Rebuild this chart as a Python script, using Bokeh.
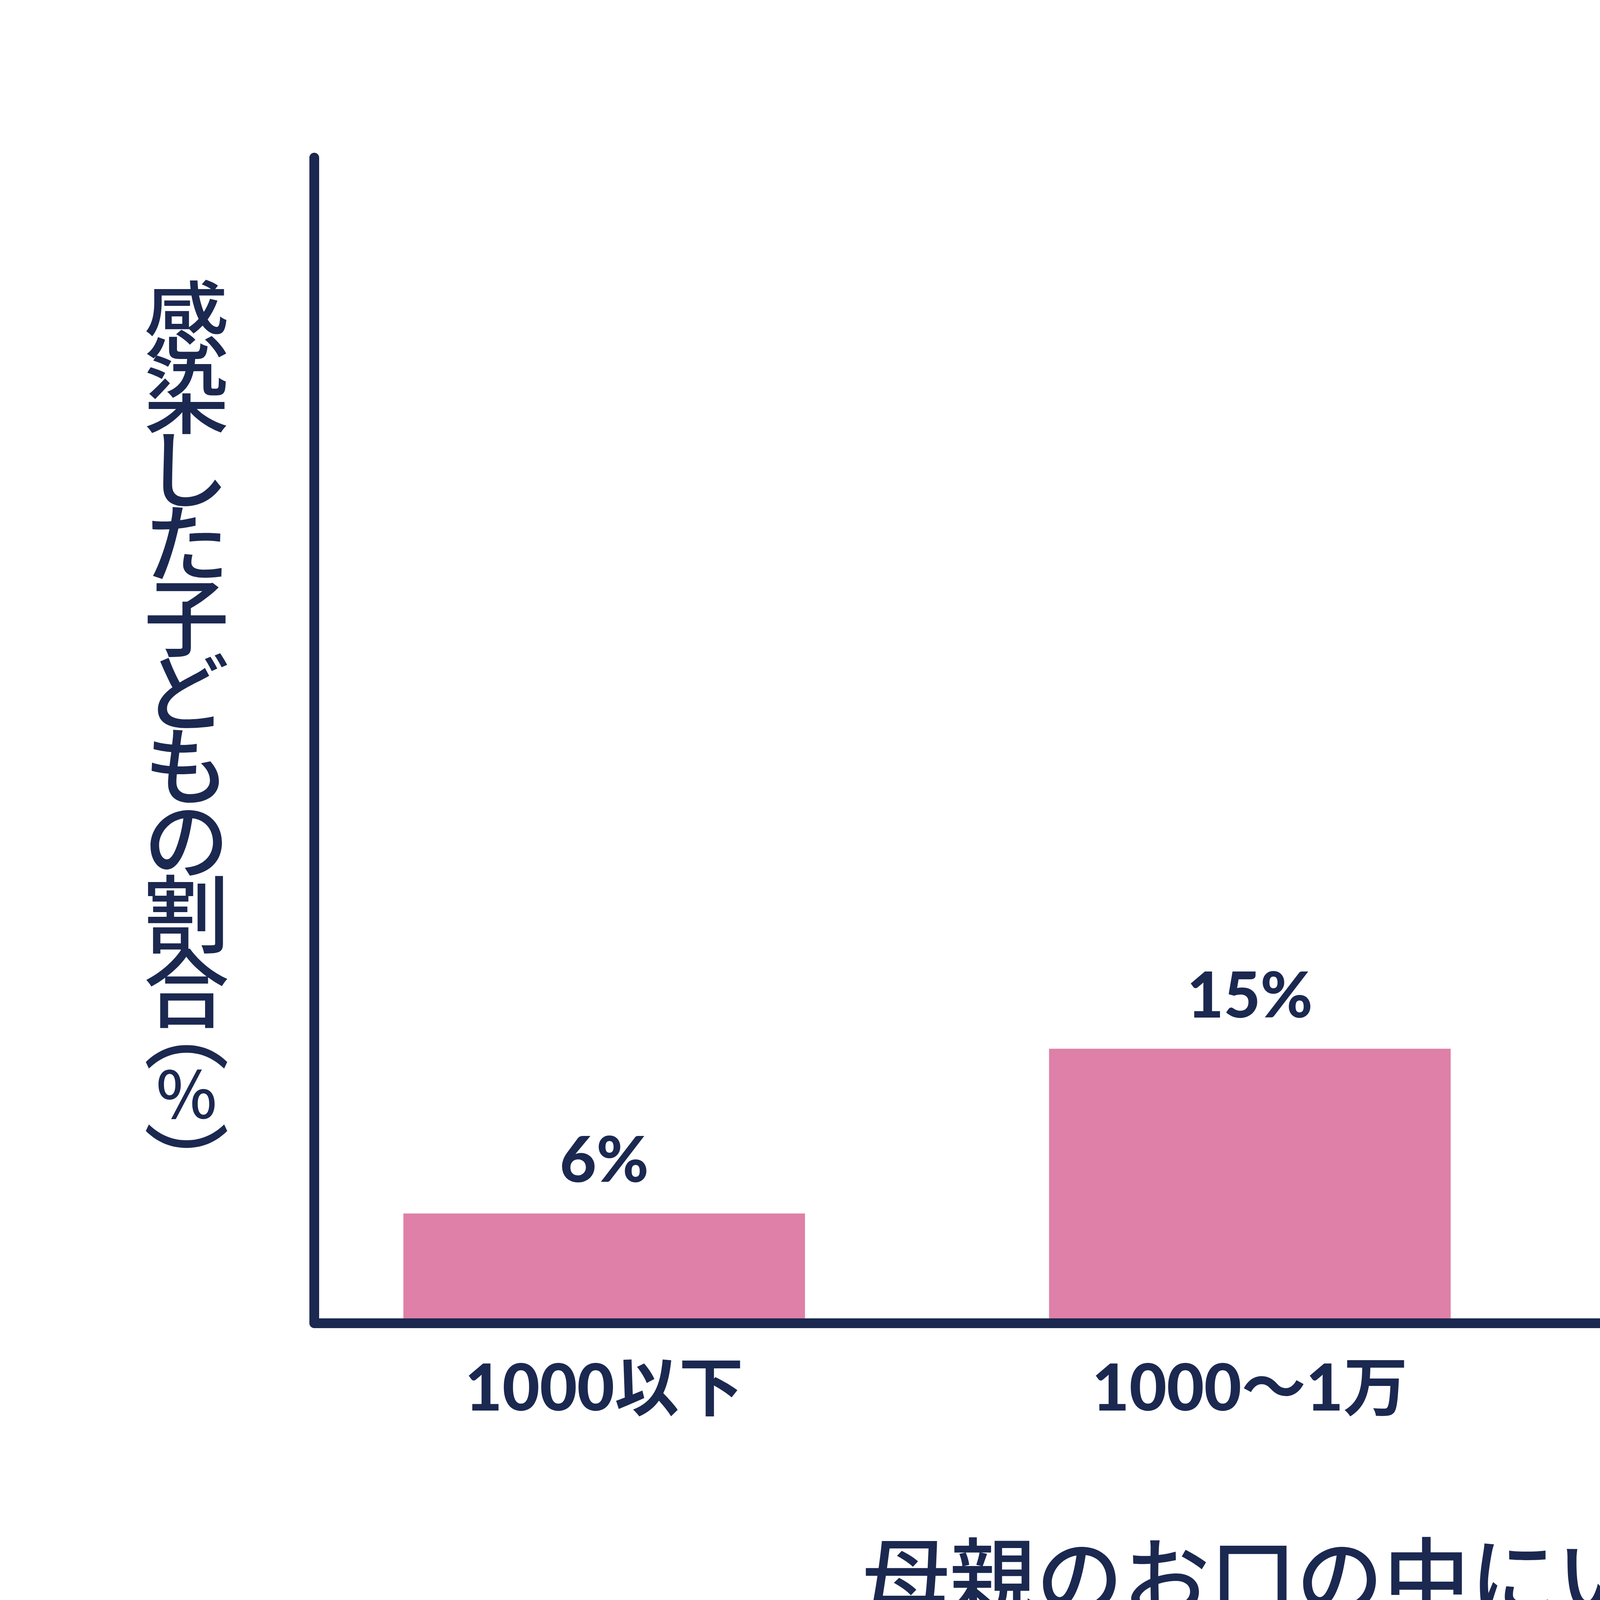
from bokeh.plotting import figure
from bokeh.models import ColumnDataSource, LabelSet, Label, Range1d, FixedTicker
from bokeh.core.properties import value
from bokeh.embed import file_html
from bokeh.resources import INLINE

categories = ["1000以下", "1000〜1万", "1万〜10万", "10万以上"]
percent = [6, 15, 14, 58]
value_labels = [f"{v}%" for v in percent]
x_title = "母親のお口の中にいる虫歯菌数"
y_title = "感染した子どもの割合︵％︶"

NAVY = "#1B2850"
PINK = "#DE80A8"
LATIN_BOLD = "'Lato Black', Lato, 'Noto Sans CJK JP'"
CJK = "'Noto Sans CJK JP Medium', 'Noto Sans CJK JP'"

# layout (canvas px)
W, H = 7757, 4346
FRAME_LEFT, AXIS_TOP = 200, 403
FRAME_TOP = AXIS_TOP - 30        # room for the round cap of the y axis line
FRAME_RIGHT, FRAME_BOTTOM = 7325, 3387
AXIS_X = 804                     # where the y axis line sits
PX_PER_UNIT = 1653.0
X_AXIS_START, X_END = -0.449, 3.496
X_START = X_AXIS_START - (AXIS_X - FRAME_LEFT) / PX_PER_UNIT
Y_AXIS_END = 63.7
PX_PER_PCT = (FRAME_BOTTOM - AXIS_TOP) / Y_AXIS_END
Y_END = Y_AXIS_END + (AXIS_TOP - FRAME_TOP) / PX_PER_PCT

pos = list(range(len(categories)))
src = ColumnDataSource(dict(x=pos, top=percent, label=value_labels))

p = figure(width=W, height=H, output_backend="svg", toolbar_location=None,
           x_range=Range1d(X_START, X_END), y_range=Range1d(0, Y_END),
           min_border_left=FRAME_LEFT, min_border_right=W - FRAME_RIGHT,
           min_border_top=FRAME_TOP, min_border_bottom=H - FRAME_BOTTOM,
           background_fill_color="white", border_fill_color="white")
p.outline_line_color = None
p.grid.visible = False

p.vbar(x="x", top="top", bottom=0, width=0.622, source=src,
       fill_color=PINK, line_color=None)

labels = LabelSet(x="x", y="top", text="label", source=src, text_align="center",
                  text_baseline="alphabetic", y_offset=80, text_color=NAVY,
                  text_font=value(LATIN_BOLD), text_font_style="bold",
                  text_font_size="162px")
p.add_layout(labels)

for ax in (p.xaxis[0], p.yaxis[0]):
    ax.axis_line_color = NAVY
    ax.axis_line_width = 25
    ax.axis_line_cap = "round"
    ax.major_tick_line_color = None
    ax.minor_tick_line_color = None
    ax.major_tick_out = 0
    ax.major_tick_in = 0
    ax.minor_tick_out = 0
    ax.minor_tick_in = 0

xa = p.xaxis[0]
xa.bounds = (X_AXIS_START, X_END)
xa.ticker = FixedTicker(ticks=pos)
xa.major_label_overrides = {i: c for i, c in zip(pos, categories)}
xa.major_label_text_font = LATIN_BOLD
xa.major_label_text_font_style = "bold"
xa.major_label_text_font_size = "165px"
xa.major_label_text_color = NAVY
xa.major_label_standoff = 60
xa.axis_label = x_title
xa.axis_label_text_font = CJK
xa.axis_label_text_font_style = "normal"
xa.axis_label_text_font_size = "222px"
xa.axis_label_text_color = NAVY
xa.axis_label_standoff = 215

ya = p.yaxis[0]
ya.fixed_location = X_AXIS_START
ya.bounds = (0, Y_AXIS_END)
ya.ticker = FixedTicker(ticks=[])
ya.major_label_text_font_size = "0px"
ya.major_label_standoff = 0

# vertical (tategaki) y-axis title: one upright character per line
ADVANCE = {"︵": 106, "％": 169, "︶": 173}
SIZE = {"％": "165px"}
label_x = X_START + (477 - FRAME_LEFT) / PX_PER_UNIT
yc = 807  # canvas y of first character centre
for i, ch in enumerate(y_title):
    if i > 0:
        yc += ADVANCE.get(ch, 190)
    p.add_layout(Label(x=label_x, y=(FRAME_BOTTOM - yc) / PX_PER_PCT,
                       text=ch, text_align="center", text_baseline="middle",
                       text_font=CJK, text_font_size=SIZE.get(ch, "218px"),
                       text_color=NAVY))

open("out.html", "w").write(file_html(p, INLINE))
